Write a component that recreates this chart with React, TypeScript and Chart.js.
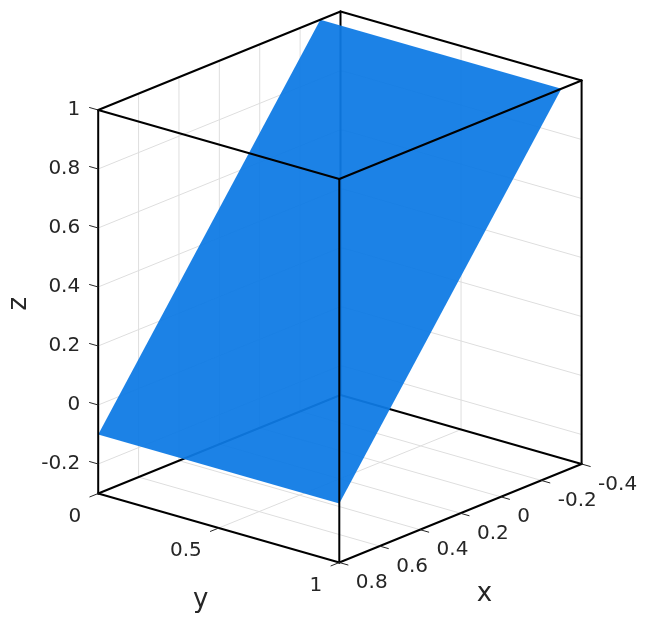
import React, { useEffect, useRef } from 'react';
import { Chart, registerables } from 'chart.js';

Chart.register(...registerables);

// ---------------- data ----------------
const xLimits = [-0.4, 0.8];
const yLimits = [0, 1];
const zLimits = [-0.3, 1];

const xTicks = [-0.4, -0.2, 0, 0.2, 0.4, 0.6, 0.8];
const yTicks = [0, 0.5, 1];
const zTicks = [-0.2, 0, 0.2, 0.4, 0.6, 0.8, 1];

const xTickLabels = ['-0.4', '-0.2', '0', '0.2', '0.4', '0.6', '0.8'];
const yTickLabels = ['0', '0.5', '1'];
const zTickLabels = ['-0.2', '0', '0.2', '0.4', '0.6', '0.8', '1'];

const xLabel = 'x';
const yLabel = 'y';
const zLabel = 'z';

// plane surface: planeZ[i][j] is z at (planeX[i], planeY[j])
const planeX = [-0.3, 0.8];
const planeY = [0, 1];
const planeZ = [
  [1, 1],
  [-0.1, -0.1],
];

// ---------------- layout / style ----------------
const W = 649;
const H = 624;
// projected plot box: origin at (xmin, ymin, zmin), edge vectors for each axis
const VIEW = {
  ox: 340.5,
  oy: 395,
  xv: [-242.3, 98.5],
  yv: [241.1, 69],
  zv: [0, -383.5],
};
const TICK_LEN = 9;
const FONT = '"DejaVu Sans", "Liberation Sans", sans-serif';
const TEXT_COLOR = '#262626';
const EDGE_COLOR = '#000000';
const GRID_COLOR = '#dedede';
const PLANE_COLOR = 'rgba(14,122,228,0.94)';

const norm = (v: number, lim: number[]) => (v - lim[0]) / (lim[1] - lim[0]);

function projN(u: number, v: number, w: number) {
  return {
    x: VIEW.ox + u * VIEW.xv[0] + v * VIEW.yv[0] + w * VIEW.zv[0],
    y: VIEW.oy + u * VIEW.xv[1] + v * VIEW.yv[1] + w * VIEW.zv[1],
  };
}
function proj(x: number, y: number, z: number) {
  return projN(norm(x, xLimits), norm(y, yLimits), norm(z, zLimits));
}
const len = (a: number[]) => Math.hypot(a[0], a[1]);

function seg(a: any, b: any, color: string, width: number, order: number) {
  return {
    data: [a, b],
    showLine: true,
    borderColor: color,
    borderWidth: width,
    borderCapStyle: 'round',
    pointRadius: 0,
    fill: false,
    order,
  };
}

function buildDatasets() {
  const ds: any[] = [];
  const [x0, x1] = xLimits;
  const [y0, y1] = yLimits;
  const [z0, z1] = zLimits;
  const inside = (v: number, lim: number[]) => v > lim[0] + 1e-9 && v < lim[1] - 1e-9;

  // grid lines on back walls (y = ymin wall, x = xmin wall, z = zmin floor)
  xTicks.filter((t) => inside(t, xLimits)).forEach((t) => {
    ds.push(seg(proj(t, y0, z0), proj(t, y0, z1), GRID_COLOR, 1, 5));
    ds.push(seg(proj(t, y0, z0), proj(t, y1, z0), GRID_COLOR, 1, 5));
  });
  yTicks.filter((t) => inside(t, yLimits)).forEach((t) => {
    ds.push(seg(proj(x0, t, z0), proj(x0, t, z1), GRID_COLOR, 1, 5));
    ds.push(seg(proj(x0, t, z0), proj(x1, t, z0), GRID_COLOR, 1, 5));
  });
  zTicks.filter((t) => inside(t, zLimits)).forEach((t) => {
    ds.push(seg(proj(x0, y0, t), proj(x1, y0, t), GRID_COLOR, 1, 5));
    ds.push(seg(proj(x0, y0, t), proj(x0, y1, t), GRID_COLOR, 1, 5));
  });

  // hidden box edges (behind the plane)
  ds.push(seg(proj(x0, y0, z0), proj(x0, y0, z1), EDGE_COLOR, 2, 4));
  ds.push(seg(proj(x0, y0, z0), proj(x1, y0, z0), EDGE_COLOR, 2, 4));
  ds.push(seg(proj(x0, y0, z0), proj(x0, y1, z0), EDGE_COLOR, 2, 4));

  // plane
  const poly = [
    proj(planeX[1], planeY[0], planeZ[1][0]),
    proj(planeX[1], planeY[1], planeZ[1][1]),
    proj(planeX[0], planeY[1], planeZ[0][1]),
    proj(planeX[0], planeY[0], planeZ[0][0]),
  ];
  ds.push({
    data: [...poly, poly[0]],
    showLine: true,
    fill: 'shape',
    backgroundColor: PLANE_COLOR,
    borderColor: 'rgba(0,0,0,0)',
    borderWidth: 0,
    pointRadius: 0,
    order: 3,
  });

  // front box edges
  const edges: number[][][] = [
    [[x1, y0, z0], [x1, y0, z1]],
    [[x1, y1, z0], [x1, y1, z1]],
    [[x0, y1, z0], [x0, y1, z1]],
    [[x1, y0, z0], [x1, y1, z0]],
    [[x1, y1, z0], [x0, y1, z0]],
    [[x1, y0, z1], [x1, y1, z1]],
    [[x1, y1, z1], [x0, y1, z1]],
    [[x1, y0, z1], [x0, y0, z1]],
    [[x0, y0, z1], [x0, y1, z1]],
  ];
  edges.forEach(([a, b]) => {
    ds.push(seg(proj(a[0], a[1], a[2]), proj(b[0], b[1], b[2]), EDGE_COLOR, 2, 2));
  });

  // tick marks
  const dv = TICK_LEN / len(VIEW.yv);
  const du = TICK_LEN / len(VIEW.xv);
  zTicks.forEach((t) => {
    const w = norm(t, zLimits);
    ds.push(seg(projN(1, 0, w), projN(1, -dv, w), TEXT_COLOR, 1, 1));
  });
  yTicks.forEach((t) => {
    const v = norm(t, yLimits);
    ds.push(seg(projN(1, v, 0), projN(1 + du, v, 0), TEXT_COLOR, 1, 1));
  });
  xTicks.forEach((t) => {
    const u = norm(t, xLimits);
    ds.push(seg(projN(u, 1, 0), projN(u, 1 + dv, 0), TEXT_COLOR, 1, 1));
  });
  return ds;
}

const labelPlugin = {
  id: 'axisText3d',
  afterDraw(chart: any) {
    const ctx = chart.ctx;
    const sx = chart.scales.x;
    const sy = chart.scales.y;
    const px = (p: { x: number; y: number }) => ({ x: sx.getPixelForValue(p.x), y: sy.getPixelForValue(p.y) });
    ctx.save();
    ctx.fillStyle = TEXT_COLOR;
    ctx.textBaseline = 'alphabetic';
    ctx.font = `20px ${FONT}`;

    ctx.textAlign = 'right';
    zTicks.forEach((t, i) => {
      const p = px(proj(xLimits[1], yLimits[0], t));
      ctx.fillText(zTickLabels[i], p.x - 18, p.y + 5);
    });
    yTicks.forEach((t, i) => {
      const p = px(proj(xLimits[1], t, zLimits[0]));
      ctx.fillText(yTickLabels[i], p.x - 17, p.y + 28);
    });
    ctx.textAlign = 'left';
    xTicks.forEach((t, i) => {
      const p = px(proj(t, yLimits[1], zLimits[0]));
      ctx.fillText(xTickLabels[i], p.x + 16.5, p.y + 25.5);
    });

    // axis titles
    ctx.font = `26px ${FONT}`;
    ctx.textAlign = 'center';
    const ym = px(proj(xLimits[1], (yLimits[0] + yLimits[1]) / 2, zLimits[0]));
    ctx.fillText(yLabel, ym.x - 18, ym.y + 79);
    const xm = px(proj((xLimits[0] + xLimits[1]) / 2, yLimits[1], zLimits[0]));
    ctx.fillText(xLabel, xm.x + 24, xm.y + 88);
    const zm = px(proj(xLimits[1], yLimits[0], (zLimits[0] + zLimits[1]) / 2));
    ctx.save();
    ctx.translate(zm.x - 72, zm.y + 2);
    ctx.rotate(-Math.PI / 2);
    ctx.fillText(zLabel, 0, 0);
    ctx.restore();
    ctx.restore();
  },
};

export default function App() {
  const ref = useRef<HTMLCanvasElement | null>(null);
  useEffect(() => {
    if (!ref.current) return;
    const chart = new Chart(ref.current, {
      type: 'scatter',
      data: { datasets: buildDatasets() },
      options: {
        responsive: false,
        animation: false,
        events: [],
        layout: { padding: 0 },
        plugins: {
          legend: { display: false },
          tooltip: { enabled: false },
        },
        elements: { point: { radius: 0 }, line: { tension: 0 } },
        scales: {
          x: { type: 'linear', min: 0, max: W, display: false },
          y: { type: 'linear', min: 0, max: H, reverse: true, display: false },
        },
      } as any,
      plugins: [labelPlugin],
    } as any);
    return () => chart.destroy();
  }, []);
  return (
    <div style={{ position: 'absolute', left: 0, top: 0, width: W, height: H, background: '#fff' }}>
      <canvas ref={ref} width={W} height={H} style={{ display: 'block', width: W, height: H }} />
    </div>
  );
}
